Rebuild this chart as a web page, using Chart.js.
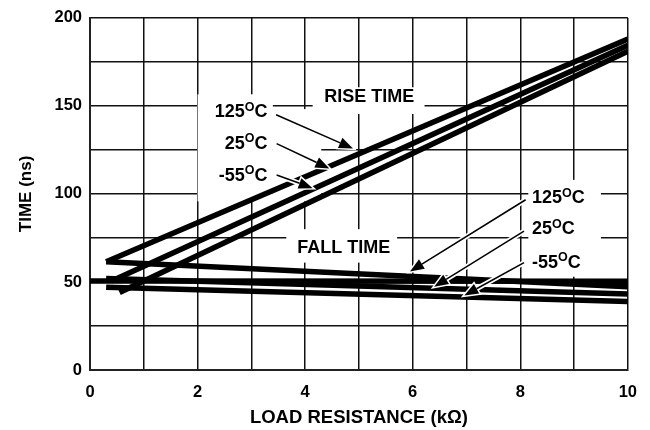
<!DOCTYPE html>
<html>
<head>
<meta charset="utf-8">
<script src="https://cdn.jsdelivr.net/npm/chart.js@4/dist/chart.umd.min.js"></script>
<style>
  html, body { margin: 0; padding: 0; background: #fff; }
  #wrap { width: 650px; height: 430px; }
</style>
</head>
<body>
<div id="wrap"><canvas id="chart" width="650" height="430"></canvas></div>
<script>
// ---- datos (kOhm -> ns) ----
const xMin = 0, xMax = 10, xStep = 1, xLabelEvery = 2;
const yMin = 0, yMax = 200, yStep = 25, yLabelEvery = 50;

// tiempo de subida
const rise125X = [0.3, 10];
const rise125Y = [61.5, 188];
const rise25X = [0.4, 10];
const rise25Y = [50.5, 184.5];
const riseM55X = [0.55, 10];
const riseM55Y = [44, 181];

// tiempo de bajada
const fall125X = [0.3, 10];
const fall125Y = [61.5, 47.3];
const fallFlatX = [0, 10];
const fallFlatY = [50.6, 50.4];
const fall25X = [0.3, 10];
const fall25Y = [52, 43.1];
const fallM55X = [0.3, 10];
const fallM55Y = [47, 38.9];

// ---- anotaciones (en unidades de datos) ----
const whiteBoxes = [
  [2.0, 95.8, 3.4, 156.6],
  [3.4, 95.8, 4.3, 148.2],
  [4.14, 145.4, 6.22, 160.6],
  [3.65, 61, 5.71, 80],
  [8.15, 53, 9.5, 108]
];
const arrows = [
  [3.46, 145, 4.89, 125.8],
  [3.47, 128.6, 4.45, 114.5],
  [3.47, 110.8, 4.14, 103.3],
  [8.1, 96.7, 5.95, 56],
  [8.07, 78.9, 6.40, 47.3],
  [8.07, 61, 6.96, 42.3]
];
const labels = [
  { main: 'RISE TIME', x: 5.19, y: 152.1, align: 'center' },
  { main: 'FALL TIME', x: 4.72, y: 66.6, align: 'center' },
  { main: '125', sup: 'O', end: 'C', x: 3.30, y: 143.7, align: 'right' },
  { main: '25', sup: 'O', end: 'C', x: 3.30, y: 125.8, align: 'right' },
  { main: '-55', sup: 'O', end: 'C', x: 3.30, y: 107.4, align: 'right' },
  { main: '125', sup: 'O', end: 'C', x: 8.22, y: 94.8, align: 'left' },
  { main: '25', sup: 'O', end: 'C', x: 8.22, y: 77.0, align: 'left' },
  { main: '-55', sup: 'O', end: 'C', x: 8.22, y: 58.2, align: 'left' }
];

const FONT = '"Liberation Sans", Arial, sans-serif';
const toPts = (xs, ys) => xs.map((x, i) => ({ x: x, y: ys[i] }));

function lineSet(label, xs, ys) {
  return {
    label: label,
    data: toPts(xs, ys),
    borderColor: '#000',
    borderWidth: 5.5,
    borderCapStyle: 'butt',
    pointRadius: 0,
    fill: false,
    tension: 0
  };
}

// cajas blancas, flechas y textos
const annotPlugin = {
  id: 'annot',
  beforeDatasetsDraw(chart) {
    const { ctx, scales: { x, y } } = chart;
    ctx.save();
    ctx.fillStyle = '#fff';
    whiteBoxes.forEach(b => {
      const x1 = x.getPixelForValue(b[0]), x2 = x.getPixelForValue(b[2]);
      const y1 = y.getPixelForValue(b[3]), y2 = y.getPixelForValue(b[1]);
      ctx.fillRect(x1, y1, x2 - x1, y2 - y1);
    });
    ctx.restore();
  },
  afterDatasetsDraw(chart) {
    const { ctx, scales: { x, y } } = chart;
    ctx.save();
    arrows.forEach(a => {
      const x1 = x.getPixelForValue(a[0]), y1 = y.getPixelForValue(a[1]);
      const x2 = x.getPixelForValue(a[2]), y2 = y.getPixelForValue(a[3]);
      const ang = Math.atan2(y2 - y1, x2 - x1);
      const len = 14, half = 5.5;
      const bx = x2 - len * Math.cos(ang), by = y2 - len * Math.sin(ang);
      // halo blanco
      ctx.strokeStyle = '#fff';
      ctx.lineWidth = 5;
      ctx.beginPath(); ctx.moveTo(x1, y1); ctx.lineTo(bx, by); ctx.stroke();
      const head = () => {
        ctx.beginPath();
        ctx.moveTo(x2, y2);
        ctx.lineTo(bx + half * Math.sin(ang), by - half * Math.cos(ang));
        ctx.lineTo(bx - half * Math.sin(ang), by + half * Math.cos(ang));
        ctx.closePath();
      };
      ctx.lineWidth = 3;
      head(); ctx.stroke();
      ctx.strokeStyle = '#000';
      ctx.lineWidth = 1.5;
      ctx.beginPath(); ctx.moveTo(x1, y1); ctx.lineTo(bx, by); ctx.stroke();
      ctx.fillStyle = '#000';
      head(); ctx.fill();
    });

    ctx.fillStyle = '#000';
    ctx.textBaseline = 'alphabetic';
    ctx.textAlign = 'left';
    const big = 'bold 18px ' + FONT, small = 'bold 12.5px ' + FONT;
    labels.forEach(l => {
      ctx.font = big;
      const w1 = ctx.measureText(l.main).width;
      const w3 = l.end ? ctx.measureText(l.end).width : 0;
      ctx.font = small;
      const w2 = l.sup ? ctx.measureText(l.sup).width : 0;
      const total = w1 + w2 + w3;
      let px = x.getPixelForValue(l.x);
      const py = y.getPixelForValue(l.y);
      if (l.align === 'center') px -= total / 2;
      else if (l.align === 'right') px -= total;
      ctx.font = big;
      ctx.fillText(l.main, px, py);
      if (l.sup) {
        ctx.font = small;
        ctx.fillText(l.sup, px + w1, py - 6.5);
        ctx.font = big;
        ctx.fillText(l.end, px + w1 + w2, py);
      }
    });
    ctx.restore();
  }
};

new Chart(document.getElementById('chart'), {
  type: 'line',
  data: {
    datasets: [
      lineSet('Subida 125C', rise125X, rise125Y),
      lineSet('Subida 25C', rise25X, rise25Y),
      lineSet('Subida -55C', riseM55X, riseM55Y),
      lineSet('Bajada 125C', fall125X, fall125Y),
      lineSet('Bajada', fallFlatX, fallFlatY),
      lineSet('Bajada 25C', fall25X, fall25Y),
      lineSet('Bajada -55C', fallM55X, fallM55Y)
    ]
  },
  options: {
    responsive: false,
    animation: false,
    layout: { padding: { top: 15, right: 21, left: 0, bottom: 0 } },
    plugins: { legend: { display: false }, tooltip: { enabled: false } },
    scales: {
      x: {
        type: 'linear',
        min: xMin, max: xMax,
        afterFit: s => { s.height = 60; },
        ticks: {
          stepSize: xStep, autoSkip: false, maxRotation: 0,
          color: '#000', padding: 13,
          font: { family: FONT, size: 16.5, weight: 'bold' },
          callback: v => (v % xLabelEvery === 0 ? v : '')
        },
        grid: { color: '#111', lineWidth: 1.5, drawTicks: false },
        border: { color: '#222', width: 2 },
        title: {
          display: true, text: 'LOAD RESISTANCE (kΩ)', color: '#000',
          font: { family: FONT, size: 18.5, weight: 'bold' },
          padding: { top: 0, bottom: 1 }
        }
      },
      y: {
        min: yMin, max: yMax,
        afterFit: s => { s.width = 90; },
        ticks: {
          stepSize: yStep, autoSkip: false,
          color: '#000', padding: 8,
          font: { family: FONT, size: 16.5, weight: 'bold' },
          callback: v => (v % yLabelEvery === 0 ? v : '')
        },
        grid: { color: '#111', lineWidth: 1.5, drawTicks: false },
        border: { color: '#222', width: 2 },
        title: {
          display: true, text: 'TIME (ns)', color: '#000',
          font: { family: FONT, size: 17, weight: 'bold' },
          padding: { top: 16, bottom: 0 }
        }
      }
    }
  },
  plugins: [annotPlugin]
});
</script>
</body>
</html>
